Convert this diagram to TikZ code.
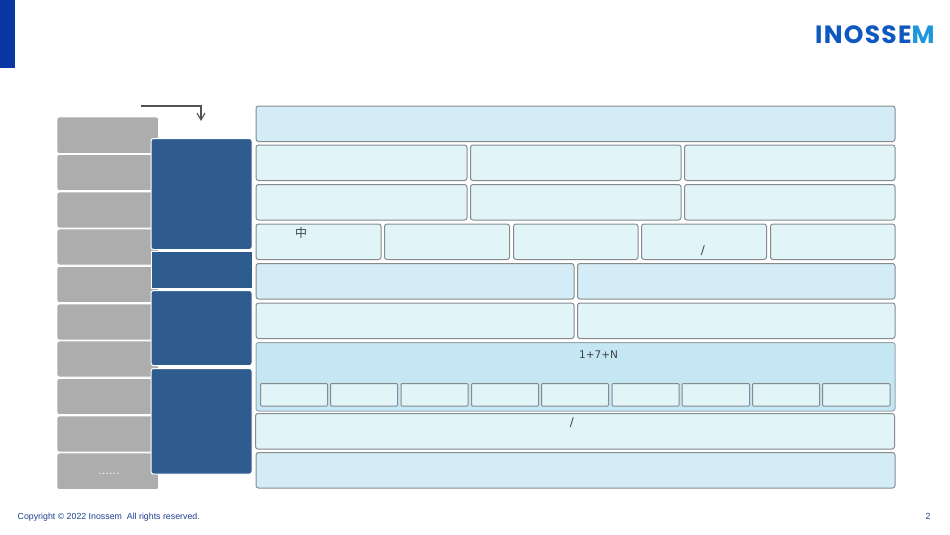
\documentclass[tikz,border=0pt]{standalone}
\usepackage{fontspec}
\setmainfont{Liberation Sans}
\newfontfamily\cjkfont{Noto Sans CJK SC}
\newfontfamily\bodyfont{DejaVu Sans}
\newfontfamily\logofont[LetterSpace=5]{Poppins}
\definecolor{tabblue}{HTML}{0B37A4}
\definecolor{logoblue}{HTML}{0F58C0}
\definecolor{logolight}{HTML}{1E96DC}
\definecolor{footblue}{HTML}{1F3F8F}
\definecolor{grayfill}{HTML}{ADADAD}
\definecolor{navyfill}{HTML}{2E5C8E}
\definecolor{paleA}{HTML}{D3ECF5}
\definecolor{paleB}{HTML}{E1F4F8}
\definecolor{paleC}{HTML}{C4E7F3}
\definecolor{edgegray}{HTML}{858B8F}
\definecolor{inktext}{HTML}{404040}
\tikzset{
  x=1pt,y=-1pt,
  block/.style={rectangle,rounded corners=2.5pt,inner sep=0pt,outer sep=0pt},
  graybox/.style={block,fill=grayfill,draw=white,line width=.6pt},
  navybox/.style={block,fill=navyfill,draw=white,line width=1pt},
  navysquare/.style={navybox,rounded corners=0pt},
  boxA/.style={block,fill=paleA,draw=edgegray,line width=1pt},
  boxB/.style={block,fill=paleB,draw=edgegray,line width=1pt},
  boxC/.style={block,fill=paleC,draw=edgegray!70!paleC,line width=1pt},
  cellbox/.style={block,rounded corners=1pt,fill=paleB,draw=edgegray,line width=1pt},
  bodytext/.style={inner sep=0pt,text=inktext,font=\bodyfont\fontsize{10.5}{13}\selectfont},
  foottext/.style={inner sep=0pt,text=footblue,font=\fontsize{8.8}{11}\selectfont},
  logotext/.style={inner sep=0pt,font=\logofont\bfseries\fontsize{25}{28}\selectfont},
  flowline/.style={draw=inktext!90!white,line width=1.1pt},
}
\newcommand{\bx}[6]{\node[#2,minimum width={(#5)-(#3)},minimum height={(#6)-(#4)}] (#1) at ({((#3)+(#5))/2},{((#4)+(#6))/2}) {};}
\begin{document}
\begin{tikzpicture}
\useasboundingbox (0,0) rectangle (950,535);
% top-left tab
\bx{tab}{rectangle,inner sep=0pt,fill=tabblue}{0}{0}{15}{68}
% logo
\node[logotext,anchor=base west] (logo) at (815,44) {\textcolor{logoblue}{INOSSE}\textcolor{logolight}{M}};
% grey column
\bx{g1}{graybox}{57}{117}{158.5}{153.5}
\bx{g2}{graybox}{57}{154.5}{158.5}{190.5}
\bx{g3}{graybox}{57}{192}{158.5}{228}
\bx{g4}{graybox}{57}{229}{158.5}{265}
\bx{g5}{graybox}{57}{266.5}{158.5}{302.5}
\bx{g6}{graybox}{57}{304}{158.5}{340}
\bx{g7}{graybox}{57}{341}{158.5}{377}
\bx{g8}{graybox}{57}{378.5}{158.5}{414.5}
\bx{g9}{graybox}{57}{416}{158.5}{452}
\bx{g10}{graybox}{57}{453}{158.5}{489.5}
\node[inner sep=0pt,text=white,font=\bfseries\fontsize{8}{9}\selectfont] (more) at (109,473.5) {.\,.\,.\,.\,.\,.};
% navy column
\bx{n1}{navybox}{151}{138.5}{252}{249.5}
\bx{n2}{navysquare}{151}{251.5}{252}{288.5}
\bx{n3}{navybox}{151}{290.5}{252}{365.5}
\bx{n4}{navybox}{151}{368.5}{252}{474}
% connector
\coordinate (flowstart) at (141,106);
\coordinate (flowbend) at (201,106);
\coordinate (flowend) at (201,120);
\draw[flowline] (flowstart) -- (flowbend) -- (flowend);
\draw[flowline] (197,113) -- (flowend) -- (205,113);
% right side
\bx{r1}{boxA}{256}{106}{895}{141.5}
\bx{r2a}{boxB}{256}{145}{467}{180.5}
\bx{r2b}{boxB}{470.5}{145}{681}{180.5}
\bx{r2c}{boxB}{684.5}{145}{895}{180.5}
\bx{r3a}{boxB}{256}{184.5}{467}{220}
\bx{r3b}{boxB}{470.5}{184.5}{681}{220}
\bx{r3c}{boxB}{684.5}{184.5}{895}{220}
\bx{r4a}{boxB}{256}{224}{381}{259.5}
\bx{r4b}{boxB}{384.5}{224}{509.5}{259.5}
\bx{r4c}{boxB}{513.5}{224}{638}{259.5}
\bx{r4d}{boxB}{641.5}{224}{766.5}{259.5}
\bx{r4e}{boxB}{770.5}{224}{895}{259.5}
\bx{r5a}{boxA}{256}{263.5}{574}{299}
\bx{r5b}{boxA}{577.5}{263.5}{895}{299}
\bx{r6a}{boxB}{256}{303}{574}{338.5}
\bx{r6b}{boxB}{577.5}{303}{895}{338.5}
\bx{r7}{boxC}{256}{342.5}{895}{411}
\bx{c1}{cellbox}{260.5}{383.5}{327.5}{406}
\bx{c2}{cellbox}{330.5}{383.5}{397.5}{406}
\bx{c3}{cellbox}{401}{383.5}{468}{406}
\bx{c4}{cellbox}{471.5}{383.5}{538.5}{406}
\bx{c5}{cellbox}{541.5}{383.5}{608.5}{406}
\bx{c6}{cellbox}{612}{383.5}{679}{406}
\bx{c7}{cellbox}{682}{383.5}{749.5}{406}
\bx{c8}{cellbox}{752.5}{383.5}{819.5}{406}
\bx{c9}{cellbox}{822.5}{383.5}{890}{406}
\bx{r8}{boxB}{255.5}{413.5}{894.5}{449}
\bx{r9}{boxA}{256}{452.5}{895}{488}
% labels
\node[bodytext,font=\cjkfont\fontsize{12}{14}\selectfont] (lz) at (301,232.5) {中};
\node[bodytext,font=\bodyfont\fontsize{12}{14}\selectfont] (ls1) at (703,251) {/};
\node[bodytext] (lhead) at (598.5,355) {1+7+N};
\node[bodytext,font=\bodyfont\fontsize{12}{14}\selectfont] (ls2) at (572,423) {/};
% footer
\node[foottext,anchor=base west] (copy) at (17.5,519) {Copyright © 2022 Inossem\ \ All rights reserved.};
\node[foottext,anchor=base] (page) at (928,519) {2};
\end{tikzpicture}
\end{document}
